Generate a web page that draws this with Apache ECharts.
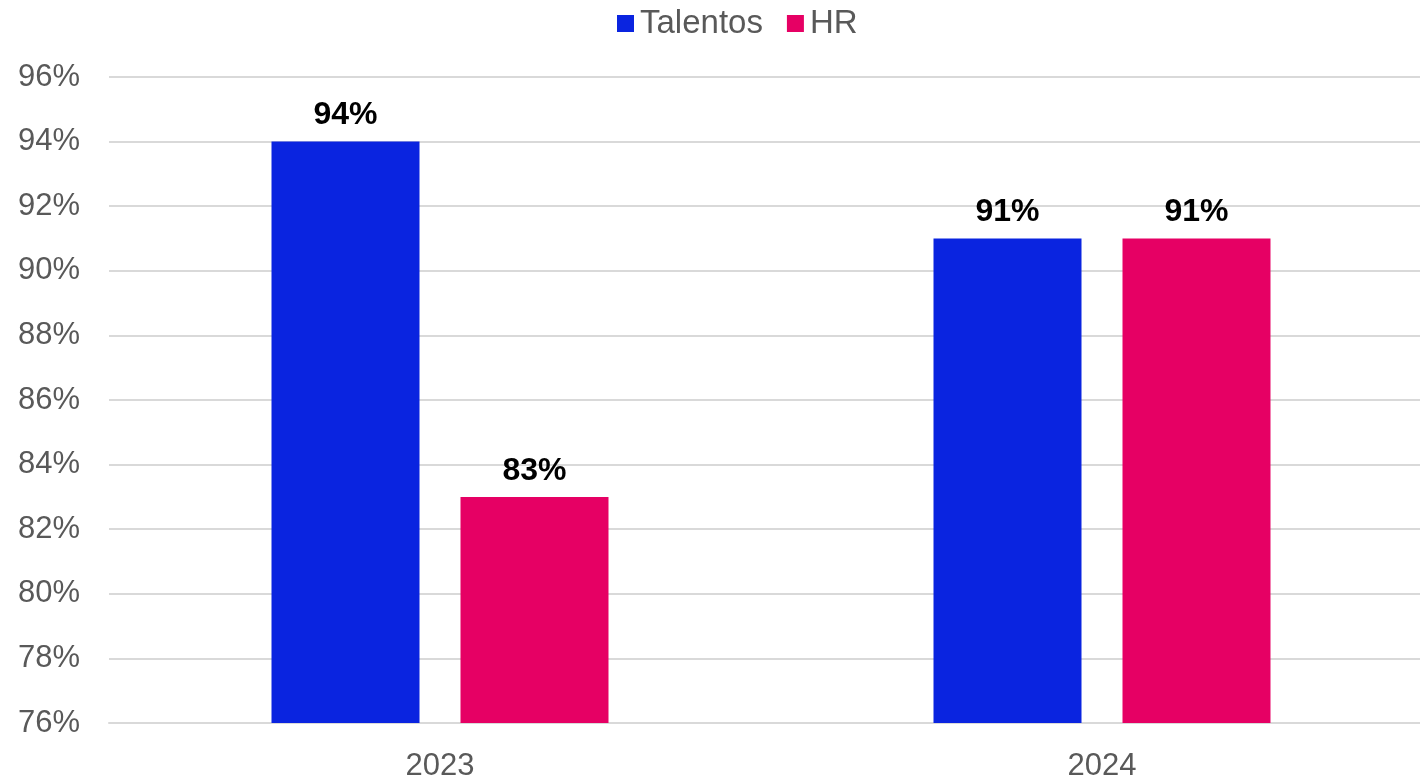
<!DOCTYPE html>
<html>
<head>
<meta charset="utf-8">
<script src="https://cdn.jsdelivr.net/npm/echarts@6/dist/echarts.min.js"></script>
<style>html,body{margin:0;padding:0;background:#fff}#c{width:1420px;height:778px}</style>
</head>
<body>
<div id="c"></div>
<script>
const categories = ['2023', '2024'];
const talentos = [94, 91];
const hr = [83, 91];
const seriesNames = ['Talentos', 'HR'];
const FONT = 'Liberation Sans, Arial, sans-serif';

const chart = echarts.init(document.getElementById('c'));
const labelCfg = {
  show: true, position: 'top', distance: 10,
  formatter: p => p.value + '%',
  color: '#000', fontWeight: 'bold', fontSize: 32, fontFamily: FONT
};
chart.setOption({
  animation: false,
  legend: {
    top: 2, left: 612, itemWidth: 17, itemHeight: 17, itemGap: 24,
    icon: 'rect',
    textStyle: { fontSize: 33, color: '#595959', fontFamily: FONT, padding: [0, 0, 0, 1] },
    data: seriesNames
  },
  grid: { left: 109, top: 77, width: 1324, height: 646, containLabel: false, outerBoundsMode: 'none' },
  xAxis: {
    type: 'category', data: categories,
    axisLine: { show: true, lineStyle: { color: '#d9d9d9', width: 2 } },
    axisTick: { show: false },
    axisLabel: { fontSize: 31, color: '#595959', fontFamily: FONT, margin: 28 }
  },
  yAxis: {
    type: 'value', min: 76, max: 96, interval: 2,
    axisLine: { show: false }, axisTick: { show: false },
    splitLine: { lineStyle: { color: '#d9d9d9', width: 2 } },
    axisLabel: { formatter: v => v + '%', fontSize: 31, color: '#595959', fontFamily: FONT, margin: 29 }
  },
  series: [
    { name: seriesNames[0], type: 'bar', data: talentos, barWidth: 148, barGap: '27.7%',
      itemStyle: { color: '#0a24e0' }, label: labelCfg },
    { name: seriesNames[1], type: 'bar', data: hr, barWidth: 148, barGap: '27.7%',
      itemStyle: { color: '#e60064' }, label: labelCfg }
  ]
});
</script>
</body>
</html>
